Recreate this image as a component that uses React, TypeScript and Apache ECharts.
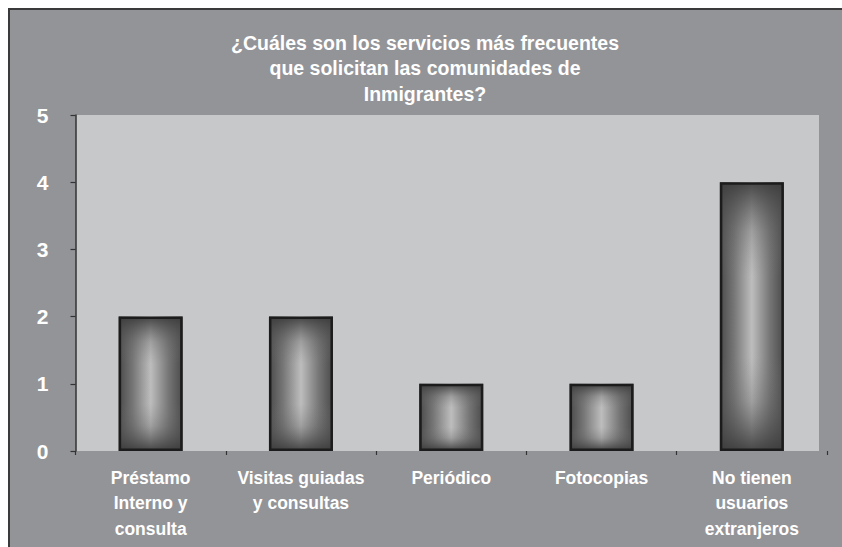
import React, { useEffect, useRef } from "react";
import * as echarts from "echarts";

const titleLines = [
  "¿Cuáles son los servicios más frecuentes",
  "que solicitan las comunidades de",
  "Inmigrantes?",
];
const categories = [
  "Préstamo\nInterno y\nconsulta",
  "Visitas guiadas\ny consultas",
  "Periódico",
  "Fotocopias",
  "No tienen\nusuarios\nextranjeros",
];
const values = [2, 2, 1, 1, 4];
const yMin = 0;
const yMax = 5;
const yInterval = 1;

const FONT = "'Liberation Sans', Arial, sans-serif";

export default function App() {
  const ref = useRef<HTMLDivElement>(null);
  useEffect(() => {
    document.documentElement.style.overflow = "hidden";
    document.body.style.overflow = "hidden";
    if (!ref.current) return;
    const chart = echarts.init(ref.current, null, { renderer: "svg" });
    chart.setOption({
      animation: false,
      backgroundColor: "#939498",
      title: {
        text: titleLines.join("\n"),
        left: 410,
        top: 15,
        textAlign: "center",
        textStyle: {
          color: "#ffffff",
          fontFamily: FONT,
          fontWeight: "bold",
          fontSize: 19.5,
          lineHeight: 25.5,
        },
      },
      graphic: [
        {
          type: "rect",
          z: -1,
          silent: true,
          shape: { x: 66, y: 105, width: 743, height: 336 },
          style: { fill: "#c7c8ca" },
        },
      ],
      grid: { left: 65.5, right: 15, top: 105, bottom: 96, containLabel: false },
      xAxis: {
        type: "category",
        data: categories,
        axisLine: { show: false },
        axisTick: { show: true, length: 4, lineStyle: { color: "#333", width: 1.2 } },
        axisLabel: {
          color: "#ffffff",
          fontFamily: FONT,
          fontWeight: "bold",
          fontSize: 17.5,
          lineHeight: 25.5,
          margin: 14,
          interval: 0,
        },
      },
      yAxis: {
        type: "value",
        min: yMin,
        max: yMax,
        interval: yInterval,
        axisLine: { show: true, lineStyle: { color: "#333", width: 1.5 } },
        axisTick: { show: true, length: 5, lineStyle: { color: "#333", width: 1.2 } },
        splitLine: { show: false },
        axisLabel: {
          color: "#ffffff",
          fontFamily: FONT,
          fontWeight: "bold",
          fontSize: 21,
          margin: 27,
        },
      },
      series: [
        {
          type: "bar",
          data: values,
          barWidth: 64,
          itemStyle: {
            color: {
              type: "linear",
              x: 0, y: 0, x2: 1, y2: 0,
              colorStops: [
                { offset: 0, color: "#4a4a4a" },
                { offset: 0.22, color: "#767676" },
                { offset: 0.5, color: "#bdbdbd" },
                { offset: 0.78, color: "#767676" },
                { offset: 1, color: "#4a4a4a" },
              ],
            },
          },
        },
        {
          type: "bar",
          data: values,
          barWidth: 64,
          barGap: "-100%",
          itemStyle: {
            borderColor: "#1c1c1c",
            borderWidth: 2.5,
            color: {
              type: "linear",
              x: 0, y: 0, x2: 0, y2: 1,
              colorStops: [
                { offset: 0, color: "rgba(60,60,60,0.9)" },
                { offset: 0.18, color: "rgba(90,90,90,0.3)" },
                { offset: 0.35, color: "rgba(120,120,120,0)" },
                { offset: 0.65, color: "rgba(120,120,120,0)" },
                { offset: 0.82, color: "rgba(90,90,90,0.3)" },
                { offset: 1, color: "rgba(60,60,60,0.9)" },
              ],
            },
          },
        },
      ],
    });
    return () => chart.dispose();
  }, []);
  return (
    <div
      style={{
        position: "fixed",
        left: 8,
        top: 8,
        width: 834,
        height: 539,
        boxSizing: "border-box",
        borderTop: "2px solid #3a3a3a",
        borderLeft: "2px solid #3a3a3a",
        background: "#939498",
      }}
    >
      <div ref={ref} style={{ width: 832, height: 537 }} />
    </div>
  );
}
